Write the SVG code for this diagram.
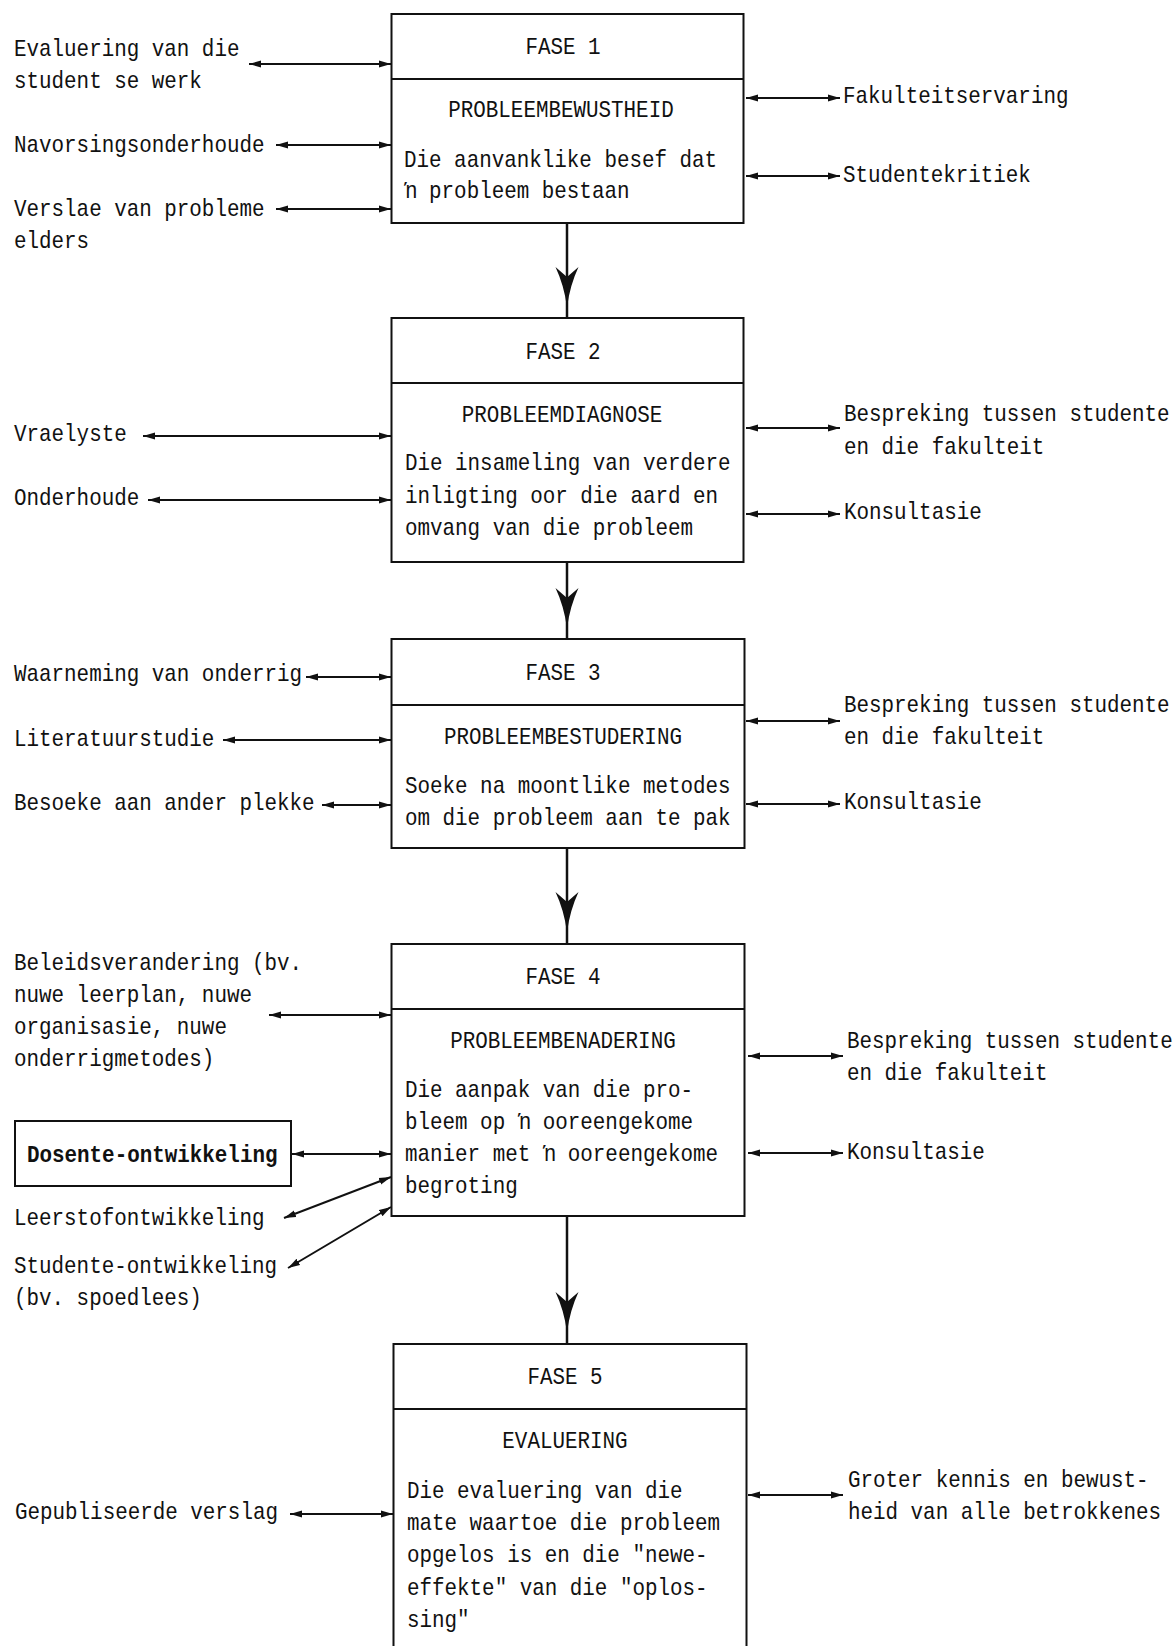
<svg xmlns="http://www.w3.org/2000/svg" width="1176" height="1646" viewBox="0 0 1176 1646">
<style>
text{font-family:"Liberation Mono","DejaVu Sans Mono",monospace;font-size:24px;fill:#111;transform:scale(0.87,1)}
.c{text-anchor:middle}
.b{font-weight:bold}
.box{fill:#fff;stroke:#111;stroke-width:2}
.div{stroke:#111;stroke-width:2}
.side{stroke:#111;stroke-width:2;fill:none;marker-start:url(#sa);marker-end:url(#sa)}
.flow{stroke:#111;stroke-width:2.5;fill:none;marker-mid:url(#ba)}
</style>
<defs>
<marker id="sa" markerUnits="userSpaceOnUse" markerWidth="14" markerHeight="10" refX="12" refY="4" orient="auto-start-reverse" viewBox="0 0 14 10">
<path d="M0,0.5 L12,4 L0,7.5 Z" fill="#111"/>
</marker>
<marker id="ba" markerUnits="userSpaceOnUse" markerWidth="44" markerHeight="26" refX="40" refY="12" orient="auto" viewBox="0 0 44 26">
<path d="M40,12 Q18,9 0,0.5 L10,12 L0,23.5 Q18,15 40,12 Z" fill="#111"/>
</marker>
</defs>

<g id="connectors">
<path class="flow" d="M567,223 L567,307 L567,318"/>
<path class="flow" d="M567,562 L567,628 L567,639"/>
<path class="flow" d="M567,848 L567,932 L567,944"/>
<path class="flow" d="M567,1216 L567,1332 L567,1344"/>

<line class="side" x1="249" y1="64" x2="391" y2="64"/>
<line class="side" x1="276" y1="145" x2="391" y2="145"/>
<line class="side" x1="276" y1="209" x2="391" y2="209"/>
<line class="side" x1="746" y1="98" x2="840" y2="98"/>
<line class="side" x1="746" y1="176" x2="840" y2="176"/>

<line class="side" x1="143" y1="436" x2="391" y2="436"/>
<line class="side" x1="148" y1="500" x2="391" y2="500"/>
<line class="side" x1="746" y1="428" x2="840" y2="428"/>
<line class="side" x1="746" y1="514" x2="840" y2="514"/>

<line class="side" x1="306" y1="677" x2="391" y2="677"/>
<line class="side" x1="223" y1="740" x2="391" y2="740"/>
<line class="side" x1="322" y1="805" x2="391" y2="805"/>
<line class="side" x1="746" y1="721" x2="840" y2="721"/>
<line class="side" x1="746" y1="804" x2="840" y2="804"/>

<line class="side" x1="269" y1="1015" x2="391" y2="1015"/>
<line class="side" x1="292" y1="1154" x2="391" y2="1154"/>
<line class="side" x1="284" y1="1218" x2="391" y2="1177"/>
<line class="side" x1="288" y1="1268" x2="391" y2="1207"/>
<line class="side" x1="748" y1="1056" x2="843" y2="1056"/>
<line class="side" x1="748" y1="1153" x2="843" y2="1153"/>

<line class="side" x1="290" y1="1514" x2="393" y2="1514"/>
<line class="side" x1="748" y1="1495" x2="843" y2="1495"/>
</g>

<g id="fase1">
<rect class="box" x="391.5" y="14" width="352" height="209"/>
<line class="div" x1="391.5" y1="79" x2="743.5" y2="79"/>
<text class="c" x="647.1" y="54">FASE 1</text>
<text class="c" x="644.8" y="117">PROBLEEMBEWUSTHEID</text>
<text x="464.4" y="167">Die aanvanklike besef dat</text>
<text x="464.4" y="198">ŉ probleem bestaan</text>
</g>

<g id="fase2">
<rect class="box" x="391.5" y="318" width="352" height="244"/>
<line class="div" x1="391.5" y1="383" x2="743.5" y2="383"/>
<text class="c" x="647.1" y="359">FASE 2</text>
<text class="c" x="646" y="422">PROBLEEMDIAGNOSE</text>
<text x="465.5" y="470">Die insameling van verdere</text>
<text x="465.5" y="503">inligting oor die aard en</text>
<text x="465.5" y="535">omvang van die probleem</text>
</g>

<g id="fase3">
<rect class="box" x="391.5" y="639" width="353" height="209"/>
<line class="div" x1="391.5" y1="705" x2="744.5" y2="705"/>
<text class="c" x="647.1" y="680">FASE 3</text>
<text class="c" x="647.1" y="744">PROBLEEMBESTUDERING</text>
<text x="465.5" y="793">Soeke na moontlike metodes</text>
<text x="465.5" y="825">om die probleem aan te pak</text>
</g>

<g id="fase4">
<rect class="box" x="391.5" y="944" width="353" height="272"/>
<line class="div" x1="391.5" y1="1009" x2="744.5" y2="1009"/>
<text class="c" x="647.1" y="984">FASE 4</text>
<text class="c" x="647.1" y="1048">PROBLEEMBENADERING</text>
<text x="465.5" y="1097">Die aanpak van die pro-</text>
<text x="465.5" y="1129">bleem op ŉ ooreengekome</text>
<text x="465.5" y="1161">manier met ŉ ooreengekome</text>
<text x="465.5" y="1193">begroting</text>
</g>

<g id="fase5">
<rect class="box" x="393.5" y="1344" width="353" height="320"/>
<line class="div" x1="393.5" y1="1409" x2="746.5" y2="1409"/>
<text class="c" x="649.4" y="1384">FASE 5</text>
<text class="c" x="649.4" y="1448">EVALUERING</text>
<text x="467.8" y="1498">Die evaluering van die</text>
<text x="467.8" y="1530">mate waartoe die probleem</text>
<text x="467.8" y="1562">opgelos is en die "newe-</text>
<text x="467.8" y="1595">effekte" van die "oplos-</text>
<text x="467.8" y="1627">sing"</text>
</g>

<g id="l-evaluering"><text x="16.1" y="56">Evaluering van die</text><text x="16.1" y="88">student se werk</text></g>
<g id="l-navorsing"><text x="16.1" y="152">Navorsingsonderhoude</text></g>
<g id="l-verslae"><text x="16.1" y="216">Verslae van probleme</text><text x="16.1" y="248">elders</text></g>
<g id="r-fakulteitservaring"><text x="969" y="103">Fakulteitservaring</text></g>
<g id="r-studentekritiek"><text x="969" y="182">Studentekritiek</text></g>

<g id="l-vraelyste"><text x="16.1" y="441">Vraelyste</text></g>
<g id="l-onderhoude"><text x="16.1" y="505">Onderhoude</text></g>
<g id="r-bespreking2"><text x="970.1" y="421">Bespreking tussen studente</text><text x="970.1" y="454">en die fakulteit</text></g>
<g id="r-konsultasie2"><text x="970.1" y="519">Konsultasie</text></g>

<g id="l-waarneming"><text x="16.1" y="681">Waarneming van onderrig</text></g>
<g id="l-literatuur"><text x="16.1" y="746">Literatuurstudie</text></g>
<g id="l-besoeke"><text x="16.1" y="810">Besoeke aan ander plekke</text></g>
<g id="r-bespreking3"><text x="970.1" y="712">Bespreking tussen studente</text><text x="970.1" y="744">en die fakulteit</text></g>
<g id="r-konsultasie3"><text x="970.1" y="809">Konsultasie</text></g>

<g id="l-beleid"><text x="16.1" y="970">Beleidsverandering (bv.</text><text x="16.1" y="1002">nuwe leerplan, nuwe</text><text x="16.1" y="1034">organisasie, nuwe</text><text x="16.1" y="1066">onderrigmetodes)</text></g>
<g id="l-dosente"><rect class="box" x="15" y="1121" width="276" height="65"/><text class="b" x="31" y="1162">Dosente-ontwikkeling</text></g>
<g id="l-leerstof"><text x="16.1" y="1225">Leerstofontwikkeling</text></g>
<g id="l-studente"><text x="16.1" y="1273">Studente-ontwikkeling</text><text x="16.1" y="1305">(bv. spoedlees)</text></g>
<g id="r-bespreking4"><text x="973.6" y="1048">Bespreking tussen studente</text><text x="973.6" y="1080">en die fakulteit</text></g>
<g id="r-konsultasie4"><text x="973.6" y="1159">Konsultasie</text></g>

<g id="l-gepubliseerde"><text x="17.2" y="1519">Gepubliseerde verslag</text></g>
<g id="r-groter"><text x="974.7" y="1487">Groter kennis en bewust-</text><text x="974.7" y="1519">heid van alle betrokkenes</text></g>
</svg>
